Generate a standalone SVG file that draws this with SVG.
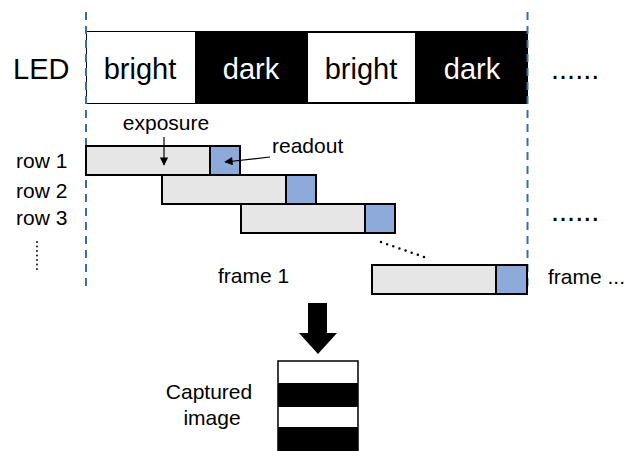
<svg xmlns="http://www.w3.org/2000/svg" width="626" height="451" viewBox="0 0 626 451">
<style>
text{font-family:"Liberation Sans",Arial,sans-serif;fill:#000}
.big{font-size:29px}
.mid{font-size:21px}
.exp{fill:#e6e6e6;stroke:#000;stroke-width:2}
.rd{fill:#8eaadb;stroke:#000;stroke-width:2}
.dash{stroke:#3a6fa6;stroke-width:2;stroke-dasharray:8,6;fill:none}
.dots{stroke:#000;stroke-width:2.5;stroke-linecap:round;stroke-dasharray:0,6.5;fill:none}
.vd{stroke:#000;stroke-width:1.8;stroke-linecap:round;stroke-dasharray:0,4.5;fill:none}
</style>
<defs>
<marker id="ah" viewBox="0 0 10 10" refX="9" refY="5" markerWidth="8" markerHeight="7" orient="auto"><path d="M0,0L10,5L0,10z" fill="#000"/></marker>
</defs>
<rect width="626" height="451" fill="#fff"/>
<g id="led">
<rect x="86" y="31" width="442" height="73" fill="#000"/>
<rect x="87" y="32" width="108" height="71" fill="#fff"/>
<rect x="307.5" y="32.5" width="108" height="70" fill="#fff" stroke="#000" stroke-width="1"/>
<text class="big" x="13" y="79">LED</text>
<text class="big" x="140" y="79" text-anchor="middle">bright</text>
<text class="big" x="251" y="79" text-anchor="middle" style="fill:#fff">dark</text>
<text class="big" x="361" y="79" text-anchor="middle">bright</text>
<text class="big" x="472" y="79" text-anchor="middle" style="fill:#fff">dark</text>
<text class="big" x="551" y="79">......</text>
</g>
<g id="guides">
<line class="dash" x1="86" y1="12" x2="86" y2="292"/>
<line class="dash" x1="527.5" y1="12" x2="527.5" y2="292"/>
</g>
<g id="row1"><rect class="exp" x="86" y="146" width="124" height="29"/><rect class="rd" x="210" y="146" width="30" height="29"/></g>
<g id="row2"><rect class="exp" x="162" y="175" width="124" height="29"/><rect class="rd" x="286" y="175" width="30" height="29"/></g>
<g id="row3"><rect class="exp" x="241" y="204" width="124" height="29"/><rect class="rd" x="365" y="204" width="30" height="29"/></g>
<g id="rowN"><rect class="exp" x="372" y="265" width="124" height="29"/><rect class="rd" x="496" y="265" width="31" height="29"/></g>
<g id="labels">
<text class="mid" x="16" y="168">row 1</text>
<text class="mid" x="16" y="198">row 2</text>
<text class="mid" x="16" y="225">row 3</text>
<line class="vd" x1="37" y1="242" x2="37" y2="270"/>
<text class="mid" x="166" y="130" text-anchor="middle">exposure</text>
<text class="mid" x="272" y="153">readout</text>
<text class="mid" x="218" y="283">frame 1</text>
<text class="mid" x="548" y="284">frame ...</text>
<text class="big" x="551" y="221">......</text>
<line class="dots" x1="381" y1="242" x2="424" y2="257"/>
</g>
<g id="connectors">
<line x1="164" y1="137" x2="164" y2="165" stroke="#000" stroke-width="1.2" marker-end="url(#ah)"/>
<line x1="270" y1="157" x2="225" y2="162" stroke="#000" stroke-width="1.2" marker-end="url(#ah)"/>
<path d="M308,303H327V333H337L318,354L299,333H308Z" fill="#000"/>
</g>
<g id="captured">
<rect x="278" y="361" width="80" height="95" fill="#fff" stroke="#000" stroke-width="1.5"/>
<rect x="278" y="383" width="80" height="24" fill="#000"/>
<rect x="278" y="427" width="80" height="30" fill="#000"/>
<text class="mid" x="209" y="399" text-anchor="middle">Captured</text>
<text class="mid" x="212" y="425" text-anchor="middle">image</text>
</g>
</svg>
